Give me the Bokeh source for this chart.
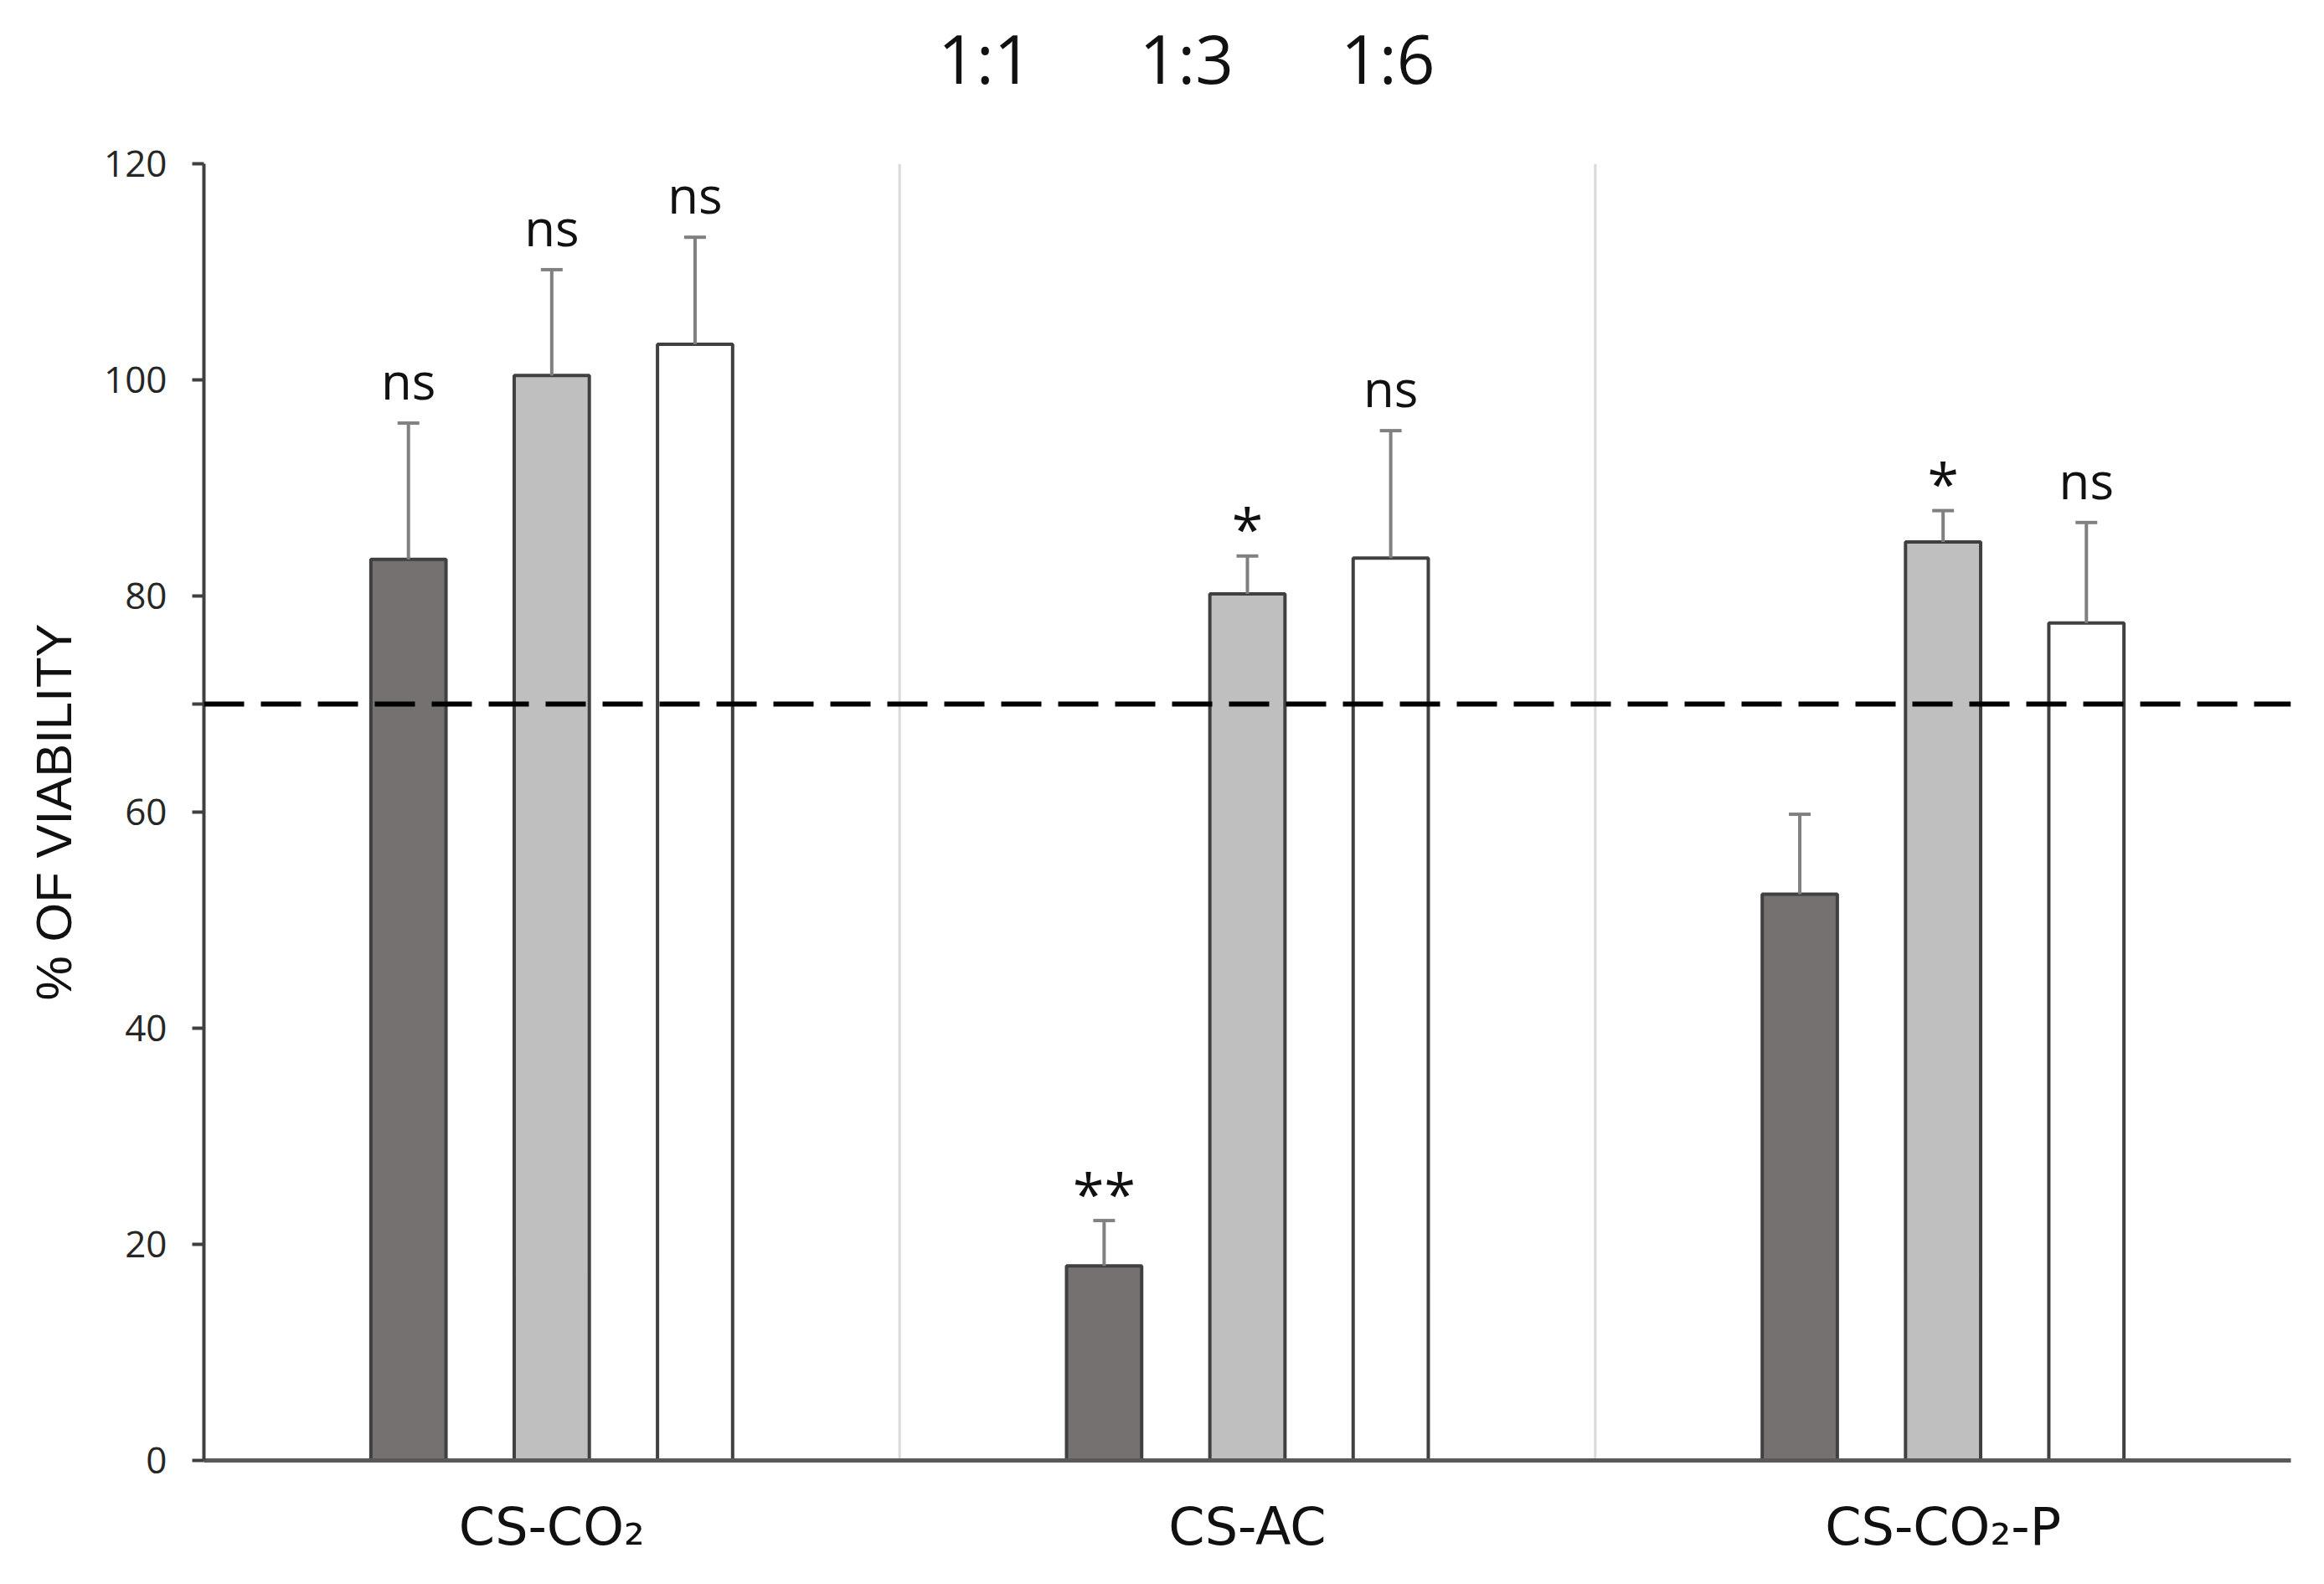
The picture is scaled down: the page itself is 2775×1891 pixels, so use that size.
from bokeh.plotting import figure
from bokeh.layouts import column
from bokeh.models import FactorRange, Range1d, FixedTicker, Span, ColumnDataSource, CDSView, IndexFilter
from bokeh.transform import dodge
from bokeh.core.properties import value
from bokeh.embed import file_html
from bokeh.resources import INLINE

# ---------------- data ----------------
categories = ["CS-CO₂", "CS-AC", "CS-CO₂-P"]
ratios = ["1:1", "1:3", "1:6"]
viability_1_1 = [83.4, 18.0, 52.4]
viability_1_3 = [100.4, 80.2, 85.0]
viability_1_6 = [103.3, 83.5, 77.5]
error_1_1 = [12.6, 4.2, 7.4]
error_1_3 = [9.8, 3.5, 2.9]
error_1_6 = [9.9, 11.8, 9.3]
signif_1_1 = ["ns", "**", ""]
signif_1_3 = ["ns", "*", "*"]
signif_1_6 = ["ns", "ns", "ns"]
threshold = 70
y_ticks = [0, 20, 40, 60, 80, 100, 120]
y_title = "% OF VIABILITY"

series = {
    "1:1": (viability_1_1, error_1_1, signif_1_1),
    "1:3": (viability_1_3, error_1_3, signif_1_3),
    "1:6": (viability_1_6, error_1_6, signif_1_6),
}

# ---------------- styling ----------------
fills = {"1:1": "#767171", "1:3": "#bfbfbf", "1:6": "#ffffff"}
offsets = {"1:1": -0.206, "1:3": 0.0, "1:6": 0.206}
bar_width = 0.108
FONT = "Open Sans"

W = 2759
H_LEG = 165
H_MAIN = 1875 - H_LEG

# ---------------- legend strip (top) ----------------
leg = figure(
    width=W, height=H_LEG,
    x_range=FactorRange(*categories, range_padding=0),
    y_range=Range1d(-1000, -999),
    output_backend="svg", toolbar_location=None,
    min_border_left=0, min_border_right=0, min_border_top=0, min_border_bottom=0,
    x_axis_location=None, y_axis_location=None,
)
leg.outline_line_color = None
leg.xgrid.grid_line_color = None
leg.ygrid.grid_line_color = None

# ---------------- main chart ----------------
p = figure(
    width=W, height=H_MAIN,
    x_range=FactorRange(*categories, range_padding=0),
    y_range=Range1d(y_ticks[0], y_ticks[-1]),
    output_backend="svg", toolbar_location=None,
    min_border_left=243, min_border_right=24, min_border_top=30, min_border_bottom=132,
)
p.outline_line_color = None
p.xgrid.grid_line_color = None
p.ygrid.grid_line_color = None
p.background_fill_color = "white"
p.border_fill_color = "white"

# category separators
sep_src = ColumnDataSource(dict(cat=categories[:-1], y0=[0] * (len(categories) - 1),
                                y1=[y_ticks[-1]] * (len(categories) - 1)))
p.segment(x0=dodge("cat", 0.5, range=p.x_range), x1=dodge("cat", 0.5, range=p.x_range),
          y0="y0", y1="y1", source=sep_src, line_color="#d9d9d9", line_width=3)

for r in ratios:
    vals, errs, sig = series[r]
    src = ColumnDataSource(dict(
        cat=categories,
        val=vals,
        top=[v + e for v, e in zip(vals, errs)],
        ns=[s if s == "ns" else "" for s in sig],
        star=[s if "*" in s else "" for s in sig],
    ))
    xd = dodge("cat", offsets[r], range=p.x_range)
    p.vbar(x=xd, top="val", bottom=0, width=bar_width, source=src,
           fill_color=fills[r], line_color="#404040", line_width=4)
    # legend-only renderer: same styling, every row filtered out of the drawing
    leg.vbar(x=dodge("cat", offsets[r], range=leg.x_range), top="val", bottom="val",
             width=0, source=src, view=CDSView(filter=IndexFilter(indices=[])),
             fill_color=fills[r], line_color="#404040", line_width=4, legend_label=r)
    p.segment(x0=xd, x1=xd, y0="val", y1="top", source=src,
              line_color="#808080", line_width=4)
    p.scatter(x=xd, y="top", marker="dash", size=26, source=src,
              line_color="#808080", line_width=4)
    p.text(x=xd, y="top", text="ns", source=src, text_align="center",
           text_baseline="alphabetic", y_offset=-51, text_font=value(FONT),
           text_font_size="60px", text_color="#111111")
    p.text(x=xd, y="top", text="star", source=src, text_align="center",
           text_baseline="alphabetic", y_offset=-33, text_font=value(FONT),
           text_font_size="68px", text_color="#111111")

# threshold line
p.add_layout(Span(location=threshold, dimension="width", line_color="black",
                  line_width=6, line_dash="48 20"))

# axes
xa = p.xaxis[0]
xa.axis_line_color = "#595959"
xa.axis_line_width = 5
xa.major_tick_line_color = None
xa.minor_tick_line_color = None
xa.major_label_text_font = "DejaVu Sans"
xa.major_label_text_font_size = "62px"
xa.major_label_text_color = "#111111"
xa.major_label_standoff = 36

ya = p.yaxis[0]
ya.ticker = FixedTicker(ticks=y_ticks, minor_ticks=[threshold])
ya.axis_line_color = "#404040"
ya.axis_line_width = 4
ya.major_tick_line_color = "#404040"
ya.major_tick_line_width = 4
ya.major_tick_out = 14
ya.major_tick_in = 0
ya.minor_tick_line_color = "#404040"
ya.minor_tick_line_width = 4
ya.minor_tick_out = 14
ya.minor_tick_in = 0
ya.major_label_text_font = FONT
ya.major_label_text_font_size = "44px"
ya.major_label_text_color = "#262626"
ya.major_label_standoff = 30
ya.axis_label = y_title
ya.axis_label_text_font = "Liberation Sans"
ya.axis_label_text_font_style = "normal"
ya.axis_label_text_font_size = "60px"
ya.axis_label_text_color = "#111111"
ya.axis_label_standoff = 23

# legend
lg = leg.legend[0]
lg.orientation = "horizontal"
lg.location = (812, 42)
lg.glyph_width = 50
lg.glyph_height = 49
lg.label_standoff = 15
lg.spacing = 63
lg.padding = 0
lg.margin = 0
lg.border_line_alpha = 0
lg.background_fill_alpha = 0
lg.label_text_font = FONT
lg.label_text_font_size = "80px"
lg.label_text_color = "#111111"
lg.label_height = 49

layout = column(leg, p, spacing=0)
open("out.html", "w").write(file_html(layout, INLINE))
